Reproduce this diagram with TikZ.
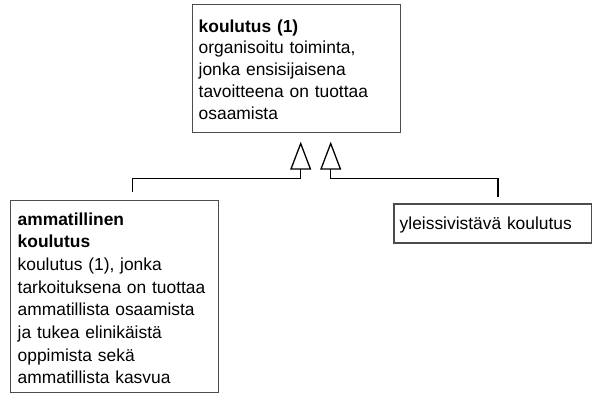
\documentclass[tikz,border=0pt]{standalone}
\usepackage{fontspec}
\setmainfont{Liberation Sans}
\usetikzlibrary{arrows.meta}
\begin{document}
\begin{tikzpicture}[x=1pt,y=-1pt,
  box/.style={draw=black!70, line width=1.2pt, inner sep=0pt, anchor=north west},
  txt/.style={inner sep=0pt, anchor=base west, align=left, text width=205pt},
  fnta/.style={font=\fontsize{17.4}{21.7}\selectfont},
  fntb/.style={font=\fontsize{17.4}{22.7}\selectfont},
  gen/.style={line width=1.3pt, -{Triangle[open,length=28pt,width=21pt]}}]
\useasboundingbox (0,0) rectangle (592,396);
% boxes
\node[box, minimum width=208pt, minimum height=127.5pt] (T) at (192,4) {};
\node[box, minimum width=208pt, minimum height=192pt] (L) at (10,200) {};
\node[box, minimum width=197.4pt, minimum height=39pt] (R) at (393.3,203.3) {};
% texts
\node[txt, fnta] (Tt) at (198.5,32.3) {\textbf{koulutus (1)}\\organisoitu toiminta,\\jonka ensisijaisena\\tavoitteena on tuottaa\\osaamista};
\node[txt, fntb] (Lt) at (17.5,225) {\textbf{ammatillinen}\\\textbf{koulutus}\\koulutus (1), jonka\\tarkoituksena on tuottaa\\ammatillista osaamista\\ja tukea elinikäistä\\oppimista sekä\\ammatillista kasvua};
\node[txt, fntb] (Rt) at (399.5,229) {yleissivistävä koulutus};
% connectors
\coordinate (lend) at (132.5,192);
\coordinate (rend) at (498,197);
\coordinate (tip1) at (300.7,141.7);
\coordinate (tip2) at (330.7,141.7);
\draw[gen] (lend) |- (300.7,178.3) -- (tip1);
\draw[gen] (rend) |- (330.7,178.3) -- (tip2);
\end{tikzpicture}
\end{document}
